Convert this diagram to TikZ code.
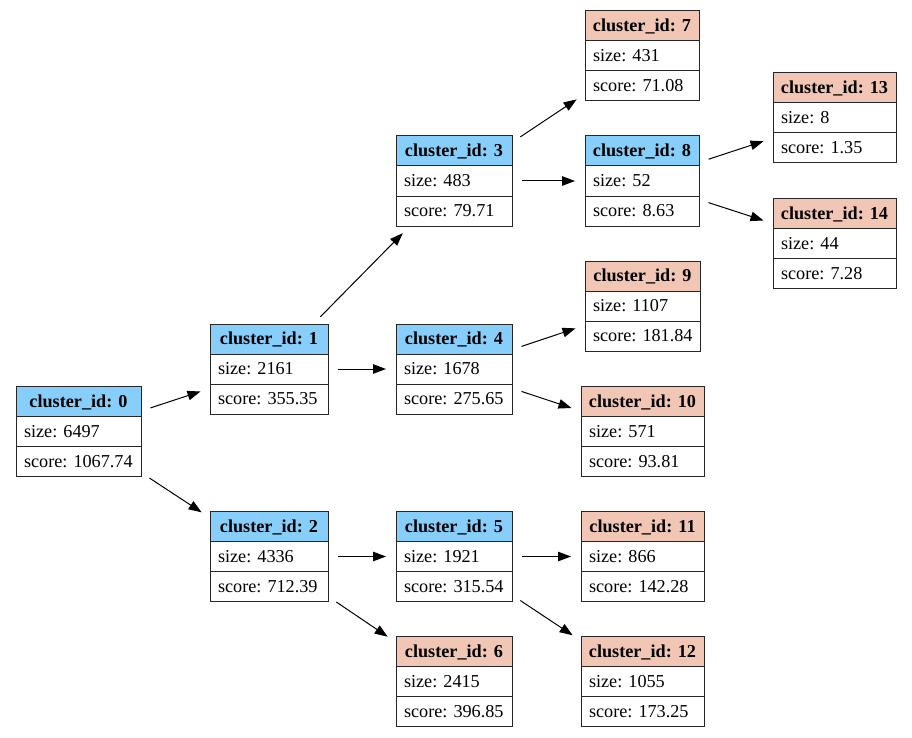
\documentclass[tikz,border=0pt]{standalone}
\usepackage{fontspec}
\setmainfont{Liberation Serif}
\usetikzlibrary{arrows.meta}
\definecolor{inner}{RGB}{135,206,250}
\definecolor{leaf}{RGB}{241,198,181}
\newcommand{\clnode}[8]{%
  \fill[#8] (#2,#4) rectangle (#3,{#4+30});
  \node[inner sep=0pt, outer sep=0pt, minimum width={(#3-#2)*1pt}, minimum height=90pt, anchor=north west] (#1) at (#2,#4) {};
  \draw[rowline] (#2,{#4+30}) -- (#3,{#4+30});
  \draw[rowline] (#2,{#4+60}) -- (#3,{#4+60});
  \draw[rowline] (#1.north west) rectangle (#1.south east);
  \node[hdr, anchor=base] (#1h) at ({(#2+#3)/2},{#4+20.5}) {cluster\_id: #5};
  \node[txt, anchor=base west] (#1s) at ({#2+8},{#4+50.5}) {size: #6};
  \node[txt, anchor=base west] (#1c) at ({#2+8},{#4+80.5}) {score: #7};
}
\begin{document}
\begin{tikzpicture}[x=1pt,y=-1pt,
  rowline/.style={draw=black!85, line width=1pt},
  txt/.style={inner sep=0pt, outer sep=0pt, font=\fontsize{18.2}{22}\selectfont},
  hdr/.style={inner sep=0pt, outer sep=0pt, font=\fontsize{18.2}{22}\selectfont\bfseries},
  edge/.style={line width=1pt, -{Triangle[length=13pt,width=9.5pt]}, shorten <=10pt, shorten >=10pt}]
\useasboundingbox (0,0) rectangle (912,738);
\fill[white] (0,0) rectangle (912,738);
\clnode{n0}{16}{141}{386.5}{0}{6497}{1067.74}{inner}
\clnode{n1}{210}{328}{324}{1}{2161}{355.35}{inner}
\clnode{n2}{210}{328}{511.5}{2}{4336}{712.39}{inner}
\clnode{n3}{396}{512}{136}{3}{483}{79.71}{inner}
\clnode{n4}{396}{512}{324}{4}{1678}{275.65}{inner}
\clnode{n5}{396}{512}{511.5}{5}{1921}{315.54}{inner}
\clnode{n6}{396}{512}{636.5}{6}{2415}{396.85}{leaf}
\clnode{n7}{585}{699}{11}{7}{431}{71.08}{leaf}
\clnode{n8}{585}{699}{136}{8}{52}{8.63}{inner}
\clnode{n9}{585}{700}{261}{9}{1107}{181.84}{leaf}
\clnode{n10}{581}{704}{386.5}{10}{571}{93.81}{leaf}
\clnode{n11}{581}{704}{511.5}{11}{866}{142.28}{leaf}
\clnode{n12}{581}{704}{636.5}{12}{1055}{173.25}{leaf}
\clnode{n13}{773}{896}{73}{13}{8}{1.35}{leaf}
\clnode{n14}{773}{896}{198.5}{14}{44}{7.28}{leaf}
\draw[edge] (n0) -- (n1);
\draw[edge] (n0) -- (n2);
\draw[edge] (n1) -- (n3);
\draw[edge] (n1) -- (n4);
\draw[edge] (n2) -- (n5);
\draw[edge] (n2) -- (n6);
\draw[edge] (n3) -- (n7);
\draw[edge] (n3) -- (n8);
\draw[edge] (n4) -- (n9);
\draw[edge] (n4) -- (n10);
\draw[edge] (n5) -- (n11);
\draw[edge] (n5) -- (n12);
\draw[edge] (n8) -- (n13);
\draw[edge] (n8) -- (n14);
\end{tikzpicture}
\end{document}
